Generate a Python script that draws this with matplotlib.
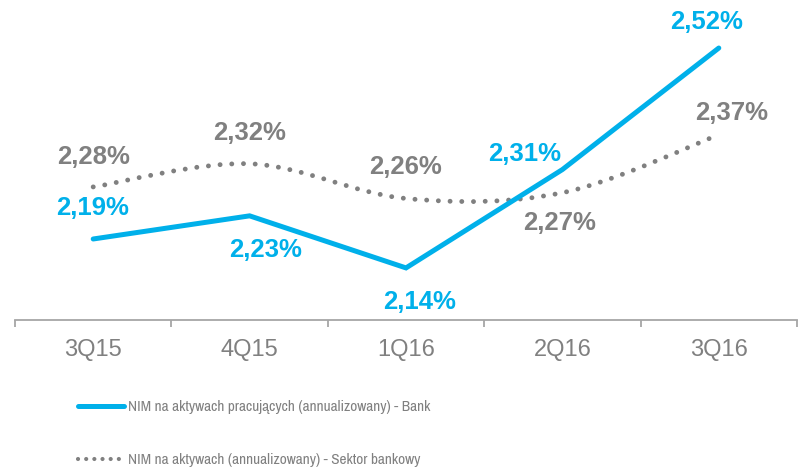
import numpy as np
import matplotlib
matplotlib.use("Agg")
import matplotlib.pyplot as plt
from matplotlib.path import Path
from matplotlib.patches import PathPatch
from matplotlib.lines import Line2D

categories = ["3Q15", "4Q15", "1Q16", "2Q16", "3Q16"]
bank = [2.19, 2.23, 2.14, 2.31, 2.52]
sector = [2.28, 2.32, 2.26, 2.27, 2.37]
bank_labels = ["2,19%", "2,23%", "2,14%", "2,31%", "2,52%"]
sector_labels = ["2,28%", "2,32%", "2,26%", "2,27%", "2,37%"]
legend_labels = ["NIM na aktywach pracujących (annualizowany) - Bank",
                 "NIM na aktywach (annualizowany) - Sektor bankowy"]

BLUE = "#00B0EA"
GRAY = "#808080"
AXIS = "#A6A6A6"

# label offsets (pixels)
bank_off = [(-1, 31), (16, -34), (14, -34), (-38, 16), (-12, 26)]
sector_off = [(0, 30), (0, 31), (-1, 31), (-3, -30), (13, 22)]

W, H = 799, 469
fig = plt.figure(figsize=(W / 100, H / 100), dpi=100)
ax = fig.add_axes([15 / W, (H - 320) / H, 782 / W, 320 / H])
ax.set_xlim(-0.5, len(categories) - 0.5)
ax.set_ylim(2.05, 2.603)

x = np.arange(len(categories))
ax.plot(x, bank, color=BLUE, lw=3.6, solid_joinstyle="miter", solid_capstyle="round", zorder=3)

# smoothed sector line via cubic Bezier segments
pts = np.column_stack([x, sector]).astype(float)
ext = np.vstack([pts[0], pts, pts[-1]])
verts = [tuple(pts[0])]
codes = [Path.MOVETO]
for i in range(len(pts) - 1):
    p0, p1, p2, p3 = ext[i], ext[i + 1], ext[i + 2], ext[i + 3]
    c1 = p1 + (p2 - p0) / 6
    c2 = p2 - (p3 - p1) / 6
    verts += [tuple(c1), tuple(c2), tuple(p2)]
    codes += [Path.CURVE4] * 3
patch = PathPatch(Path(verts, codes), facecolor="none", edgecolor=GRAY, lw=3.5,
                  linestyle=(0, (0.01, 2.4)), capstyle="round", zorder=2)
ax.add_patch(patch)

lab_font = dict(fontsize=18.5, fontweight="bold", family=["Liberation Sans", "DejaVu Sans"],
                ha="center", va="center")
for xi, v, t, o in zip(x, bank, bank_labels, bank_off):
    ax.annotate(t, (xi, v), xytext=o, textcoords="offset pixels", color=BLUE, **lab_font)
for xi, v, t, o in zip(x, sector, sector_labels, sector_off):
    ax.annotate(t, (xi, v), xytext=o, textcoords="offset pixels", color=GRAY, **lab_font)

for s in ["top", "right", "left"]:
    ax.spines[s].set_visible(False)
ax.spines["bottom"].set_color(AXIS)
ax.spines["bottom"].set_linewidth(1.3)
ax.set_yticks([])
ax.set_xticks(x)
ax.set_xticklabels(categories, fontsize=17, color=GRAY, family=["Liberation Sans", "DejaVu Sans"])
ax.tick_params(axis="x", which="major", length=0, pad=13.5)
ax.set_xticks(np.arange(-0.5, len(categories)), minor=True)
ax.tick_params(axis="x", which="minor", length=5, width=1.3, color=AXIS, direction="out")

lprop = dict(family=["Archivo Narrow", "Liberation Sans Narrow", "Liberation Sans"], size=11)
handles = [Line2D([], [], color=BLUE, lw=3.6, solid_capstyle="round"),
           Line2D([], [], color=GRAY, lw=3.0, linestyle=(0, (0.01, 1.95)), dash_capstyle="round")]
leg = fig.legend(handles, legend_labels, loc="upper left",
                 bbox_to_anchor=(78 / W, 1 - 400 / H), frameon=False,
                 prop=lprop, borderaxespad=0, borderpad=0,
                 handlelength=3.0, handletextpad=0.28, labelspacing=2.55, labelcolor=GRAY)

fig.savefig("out.png", dpi=100)
